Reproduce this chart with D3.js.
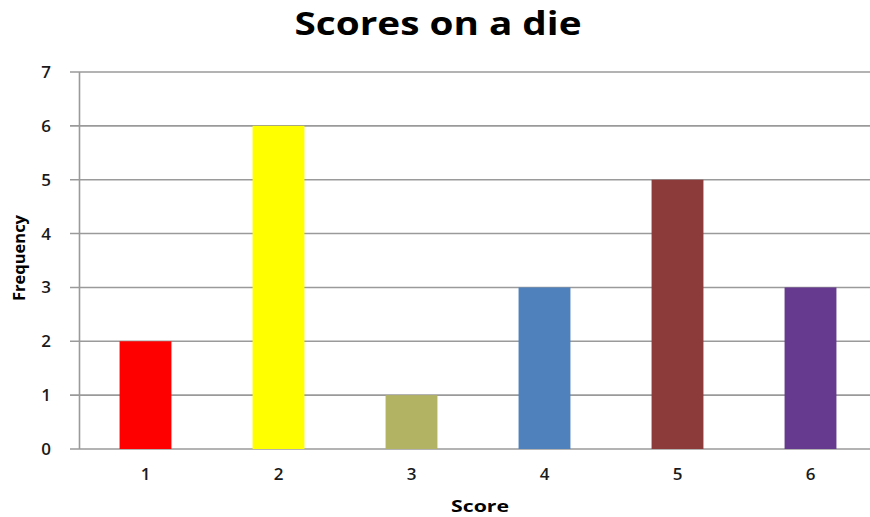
<html>
<head>
<meta charset="UTF-8">
<script src="https://d3js.org/d3.v7.min.js"></script>
<style>
body { margin: 0; background: #fff; }
</style>
</head>
<body>
<svg id="chart" width="870" height="517"></svg>
<script>
// datos
var scores = ["1", "2", "3", "4", "5", "6"];
var frequency = [2, 6, 1, 3, 5, 3];
var colors = ["#ff0000", "#ffff00", "#b3b364", "#4f81bd", "#8d3a3a", "#653a8f"];
var yTicks = [0, 1, 2, 3, 4, 5, 6, 7];

var svg = d3.select("#chart"),
	plotLeft = 79, plotRight = 877, plotTop = 72, plotBottom = 449;

var x = d3.scaleBand()
	.domain(scores)
	.range([plotLeft, plotRight])
	.paddingInner(0.61)
	.paddingOuter(0.305);

var y = d3.scaleLinear()
	.domain([0, 7])
	.range([plotBottom, plotTop]);

// lineas de la cuadricula
svg.append("g").selectAll("line")
	.data(yTicks)
	.enter().append("line")
	.attr("x1", plotLeft - 9)
	.attr("x2", 870)
	.attr("y1", d => y(d))
	.attr("y2", d => y(d))
	.attr("stroke", "#9a9a9a")
	.attr("stroke-width", 1.6);

// barras
svg.append("g").selectAll("rect")
	.data(frequency)
	.enter().append("rect")
	.attr("x", (d, i) => x(scores[i]))
	.attr("width", x.bandwidth())
	.attr("y", d => y(d))
	.attr("height", d => y(0) - y(d))
	.attr("fill", (d, i) => colors[i]);

// eje y
var yAxis = svg.append("g")
	.attr("transform", `translate(${plotLeft},0)`)
	.call(d3.axisLeft(y).tickValues(yTicks).tickFormat(d3.format("d")).tickSize(9).tickPadding(19));
yAxis.select(".domain").attr("stroke", "#9a9a9a").attr("stroke-width", 1.6)
	.attr("d", `M0.5,${plotTop}V${plotBottom}`);
yAxis.selectAll(".tick line").remove();
yAxis.selectAll("text")
	.attr("font-family", "Open Sans, sans-serif")
	.attr("font-size", 17)
	.attr("font-weight", 600)
	.attr("fill", "#1a1a1a");

// eje x
var xAxis = svg.append("g")
	.attr("transform", `translate(0,${plotBottom})`)
	.call(d3.axisBottom(x).tickSize(0).tickPadding(19));
xAxis.select(".domain").remove();
xAxis.selectAll("text")
	.attr("font-family", "Open Sans, sans-serif")
	.attr("font-size", 17)
	.attr("font-weight", 600)
	.attr("fill", "#1a1a1a");

// titulos
svg.append("text")
	.attr("x", 438)
	.attr("y", 35)
	.attr("text-anchor", "middle")
	.attr("font-family", "Open Sans, sans-serif")
	.attr("font-size", 32)
	.attr("font-weight", 700)
	.attr("textLength", 287)
	.attr("lengthAdjust", "spacingAndGlyphs")
	.attr("fill", "#000")
	.text("Scores on a die");

svg.append("text")
	.attr("x", 480)
	.attr("y", 512)
	.attr("text-anchor", "middle")
	.attr("font-family", "Open Sans, sans-serif")
	.attr("font-size", 16)
	.attr("font-weight", 700)
	.attr("textLength", 58)
	.attr("lengthAdjust", "spacingAndGlyphs")
	.attr("fill", "#000")
	.text("Score");

svg.append("text")
	.attr("transform", "translate(25,258) rotate(-90)")
	.attr("text-anchor", "middle")
	.attr("font-family", "Open Sans, sans-serif")
	.attr("font-size", 16)
	.attr("font-weight", 700)
	.attr("textLength", 86)
	.attr("lengthAdjust", "spacingAndGlyphs")
	.attr("fill", "#000")
	.text("Frequency");
</script>
</body>
</html>
